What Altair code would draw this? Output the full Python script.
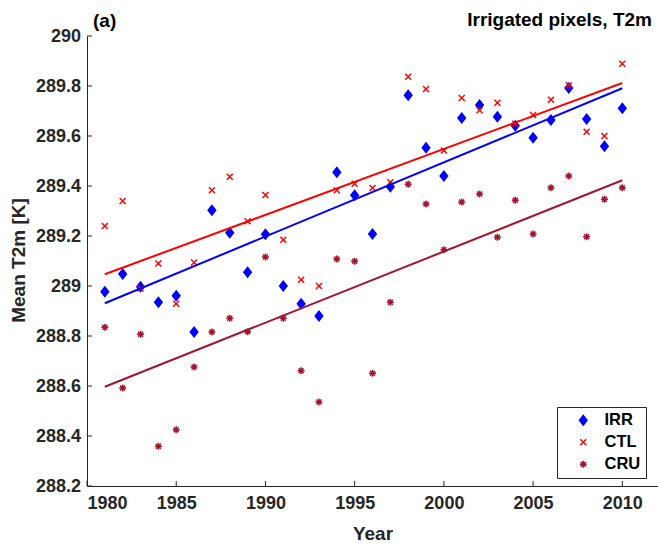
import altair as alt
import pandas as pd

# Annual mean 2 m temperature over irrigated pixels, 1981-2010
years = list(range(1981, 2011))

irr = [288.977, 289.048, 288.997, 288.935, 288.961, 288.816, 289.303, 289.213,
       289.055, 289.207, 289.000, 288.929, 288.880, 289.455, 289.363, 289.208,
       289.397, 289.763, 289.553, 289.440, 289.672, 289.724, 289.677, 289.641,
       289.593, 289.664, 289.792, 289.668, 289.559, 289.711]

ctl = [289.240, 289.340, 288.990, 289.090, 288.929, 289.094, 289.383, 289.437,
       289.259, 289.364, 289.185, 289.025, 289.000, 289.383, 289.409, 289.392,
       289.415, 289.837, 289.788, 289.542, 289.752, 289.703, 289.733, 289.649,
       289.684, 289.745, 289.803, 289.617, 289.600, 289.889]

cru = [288.835, 288.592, 288.807, 288.359, 288.425, 288.676, 288.816, 288.871,
       288.817, 289.116, 288.871, 288.661, 288.536, 289.108, 289.099, 288.651,
       288.935, 289.407, 289.328, 289.145, 289.336, 289.368, 289.195, 289.343,
       289.208, 289.393, 289.440, 289.197, 289.347, 289.393]

# linear trend lines: values at the first and last year
trend_years = [1981, 2010]
irr_trend = [288.931, 289.791]
ctl_trend = [289.047, 289.812]
cru_trend = [288.597, 289.423]

series_names = ["IRR", "CTL", "CRU"]
series_colors = ["#0000FF", "#FF0000", "#A2142F"]
series_fills = ["#0000FF", "transparent", "transparent"]

x_ticks = [1980, 1985, 1990, 1995, 2000, 2005, 2010]
y_ticks = [288.2, 288.4, 288.6, 288.8, 289.0, 289.2, 289.4, 289.6, 289.8, 290.0]

# marker outlines: filled diamond, x-cross, eight-armed asterisk
diamond = "M0,-0.95L0.75,0L0,0.95L-0.75,0Z"
cross = "M-0.6,-0.6L0.6,0.6M0.6,-0.6L-0.6,0.6"
asterisk = ("M0,-0.7L0,0.7M-0.7,0L0.7,0"
            "M-0.5,-0.5L0.5,0.5M-0.5,0.5L0.5,-0.5")

rows = []
for name, vals in zip(series_names, [irr, ctl, cru]):
    for yr, v in zip(years, vals):
        rows.append({"year": yr, "t2m": v, "series": name})
df = pd.DataFrame(rows)

trend_rows = []
for name, vals in zip(series_names, [irr_trend, ctl_trend, cru_trend]):
    for yr, v in zip(trend_years, vals):
        trend_rows.append({"year": yr, "t2m": v, "series": name})
trend_df = pd.DataFrame(trend_rows)

FONT = "Liberation Sans"
AXIS_GRAY = "#262626"
W, H = 571, 450

x_scale = alt.Scale(domain=[1980, 2012], nice=False, zero=False)
y_scale = alt.Scale(domain=[288.2, 290.0], nice=False, zero=False)

legend = alt.Legend(
    title=None, orient="none", legendX=470, legendY=371,
    labelFont=FONT, labelFontSize=16.5, labelFontWeight="bold", labelColor="#000000",
    strokeColor=AXIS_GRAY, fillColor="#FFFFFF", padding=5, rowPadding=5,
    symbolSize=100, symbolStrokeWidth=1.5, symbolOffset=13, labelOffset=13,
)

x_axis = alt.Axis(
    values=x_ticks, format="d", ticks=False, grid=False, labelPadding=8,
    title="Year", titleY=47, titleBaseline="middle",
)
y_axis = alt.Axis(
    values=y_ticks, format=".1~f", ticks=False, grid=False, labelPadding=6.5,
    title="Mean T2m [K]", titleX=-69, titleY=224, titleAlign="center",
    titleBaseline="middle",
)

points = alt.Chart(df).mark_point(filled=False, size=100, strokeWidth=1.5, opacity=1).encode(
    x=alt.X("year:Q", scale=x_scale, axis=x_axis),
    y=alt.Y("t2m:Q", scale=y_scale, axis=y_axis),
    stroke=alt.Stroke("series:N", scale=alt.Scale(domain=series_names, range=series_colors), legend=legend),
    fill=alt.Fill("series:N", scale=alt.Scale(domain=series_names, range=series_fills), legend=legend),
    shape=alt.Shape("series:N", scale=alt.Scale(domain=series_names, range=[diamond, cross, asterisk]), legend=legend),
)

trends = alt.Chart(trend_df).mark_line(strokeWidth=2).encode(
    x=alt.X("year:Q", scale=x_scale),
    y=alt.Y("t2m:Q", scale=y_scale),
    color=alt.Color("series:N", scale=alt.Scale(domain=series_names, range=series_colors), legend=None),
    detail="series:N",
)

# inward-pointing tick marks
y_tick_marks = alt.Chart(pd.DataFrame({"t2m": y_ticks})).mark_rule(
    color=AXIS_GRAY, strokeWidth=1
).encode(
    y=alt.Y("t2m:Q", scale=y_scale), x=alt.value(0), x2=alt.value(5)
)
x_tick_marks = alt.Chart(pd.DataFrame({"year": x_ticks})).mark_rule(
    color=AXIS_GRAY, strokeWidth=1
).encode(
    x=alt.X("year:Q", scale=x_scale), y=alt.value(H), y2=alt.value(H - 5)
)

panel_label = alt.Chart(pd.DataFrame({"t": ["(a)"]})).mark_text(
    font=FONT, fontSize=19, fontWeight="bold", align="left", baseline="middle", color="#000000"
).encode(text="t:N", x=alt.value(6), y=alt.value(-15))

panel_title = alt.Chart(pd.DataFrame({"t": ["Irrigated pixels, T2m"]})).mark_text(
    font=FONT, fontSize=19, fontWeight="bold", align="right", baseline="middle", color="#000000"
).encode(text="t:N", x=alt.value(565), y=alt.value(-16))

chart = alt.layer(
    points, trends, y_tick_marks, x_tick_marks, panel_label, panel_title
).properties(
    width=W, height=H,
    autosize=alt.AutoSizeParams(type="none"),
    padding={"left": 87, "top": 36, "right": 0, "bottom": 60},
    background="#FFFFFF",
).configure_view(stroke=None).configure_axis(
    labelFont=FONT, labelFontSize=18, labelFontWeight="bold", labelColor=AXIS_GRAY,
    titleFont=FONT, titleFontSize=19, titleFontWeight="bold", titleColor=AXIS_GRAY,
    domainColor=AXIS_GRAY, domainWidth=1,
)

chart.save("out.html", embed_options={"renderer": "svg", "actions": False})
